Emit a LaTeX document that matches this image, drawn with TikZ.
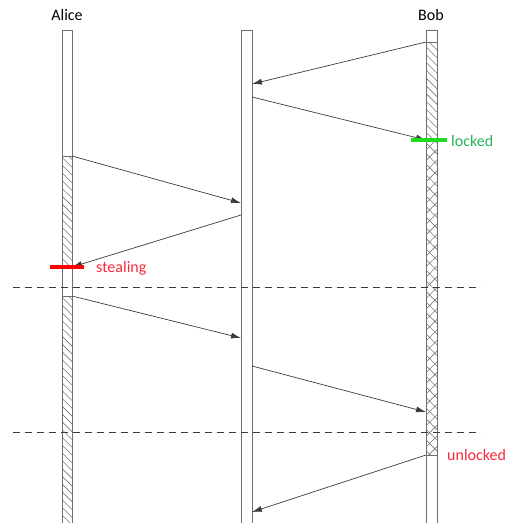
\documentclass[tikz,border=0pt]{standalone}
\usepackage{fontspec}
\setmainfont{Carlito}
\usetikzlibrary{arrows.meta,patterns.meta}
\definecolor{lifec}{RGB}{110,110,110}
\definecolor{arrc}{RGB}{60,60,60}
\definecolor{hatchc}{RGB}{120,120,120}
\definecolor{redl}{RGB}{255,0,0}
\definecolor{redt}{RGB}{250,40,60}
\definecolor{greenl}{RGB}{30,220,30}
\definecolor{greent}{RGB}{40,180,90}
\tikzset{
  lifeline/.style={draw=lifec, line width=0.9pt},
  msg/.style={draw=arrc, line width=0.7pt, -{Latex[length=10pt,width=6pt]}},
  divider/.style={draw=arrc, line width=0.8pt, dash pattern=on 7pt off 5pt},
  hatchone/.style={pattern={Lines[angle=-45,distance=5.5pt,line width=0.6pt]}, pattern color=hatchc},
  hatchcross/.style={pattern={Hatch[angle=45,distance=7.5pt,line width=0.6pt]}, pattern color=hatchc},
  marker/.style={line width=3.8pt},
  lbl/.style={font=\fontsize{16}{18}\selectfont, inner sep=0pt, anchor=west},
  who/.style={font=\fontsize{16}{18}\selectfont, inner sep=0pt},
}
\begin{document}
\begin{tikzpicture}[x=1pt,y=-1pt]
\useasboundingbox (0,0) rectangle (508,523);
\clip (0,0) rectangle (508,523);
% hatching
\path[hatchone] (62,156) rectangle (72,267);
\path[hatchone] (62,296) rectangle (72,530);
\path[hatchone] (426,42) rectangle (437,140);
\path[hatchcross] (426,140) rectangle (437,455);
% lifelines
\draw[lifeline] (62,530) -- (62,30) -- (72,30) -- (72,530);
\draw[lifeline] (62,156) -- (72,156);
\draw[lifeline] (62,296) -- (72,296);
\draw[lifeline] (241,530) -- (241,30) -- (252,30) -- (252,530);
\draw[lifeline] (426,530) -- (426,30) -- (437,30) -- (437,530);
\draw[lifeline] (426,42) -- (437,42);
\draw[lifeline] (426,455) -- (437,455);
% labels
\node[who] (alice) at (67,15) {Alice};
\node[who] (bob) at (431,15) {Bob};
% endpoints
\coordinate (b1) at (426,42);  \coordinate (m1) at (252,84);
\coordinate (m2) at (252,97);  \coordinate (b2) at (426,140);
\coordinate (a3) at (72,156);  \coordinate (m3) at (241,203);
\coordinate (m4) at (241,215); \coordinate (a4) at (72,267);
\coordinate (a5) at (72,296);  \coordinate (m5) at (241,338);
\coordinate (m6) at (252,366); \coordinate (b6) at (426,412);
\coordinate (b7) at (426,455); \coordinate (m7) at (252,512);
\draw[msg] (b1) -- (m1);
\draw[msg] (m2) -- (b2);
\draw[msg] (a3) -- (m3);
\draw[msg] (m4) -- (a4);
\draw[msg] (a5) -- (m5);
\draw[msg] (m6) -- (b6);
\draw[msg] (b7) -- (m7);
% dividers
\coordinate (d1l) at (13,287); \coordinate (d1r) at (481,287);
\coordinate (d2l) at (13,432); \coordinate (d2r) at (481,432);
\draw[divider] (d1l) -- (d1r);
\draw[divider] (d2l) -- (d2r);
% markers
\coordinate (rl) at (50,267); \coordinate (rr) at (84,267);
\draw[marker, redl] (rl) -- (rr);
\node[lbl, text=redt] (stealing) at (96,268) {stealing};
\coordinate (gl) at (411,140); \coordinate (gr) at (447,140);
\draw[marker, greenl] (gl) -- (gr);
\node[lbl, text=greent] (locked) at (451,141) {locked};
\node[lbl, text=redt] (unlocked) at (447,455) {unlocked};
\end{tikzpicture}
\end{document}
